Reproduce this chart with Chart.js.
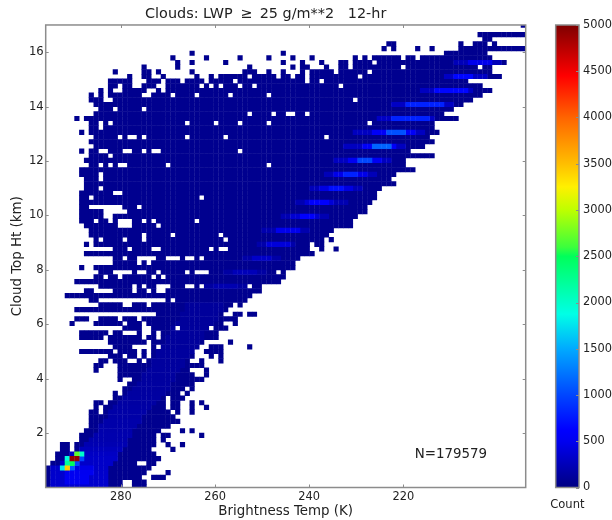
<!DOCTYPE html>
<html>
<head>
<meta charset="utf-8">
<title>Clouds LWP histogram</title>
<script src="https://cdn.jsdelivr.net/npm/chart.js@4"></script>
<style>
  body { margin: 0; background: #fff; }
  #wrap { position: relative; width: 612px; height: 520px; }
  #heatChart { position: absolute; left: 0; top: 0; }
  #barChart { position: absolute; left: 530px; top: 0; }
</style>
</head>
<body>
<div id="wrap">
  <canvas id="heatChart" width="572" height="520"></canvas>
  <canvas id="barChart" width="82" height="520"></canvas>
</div>
<script>
const titleText = 'Clouds: LWP \u2009\u2265\u2009 25 g/m**2   12-hr';
const xLabel = 'Brightness Temp (K)';
const yLabel = 'Cloud Top Ht (km)';
const barLabel = 'Count';
const noteText = 'N=179579';
const xTicks = [280, 260, 240, 220];
const yTicks = [2, 4, 6, 8, 10, 12, 14, 16];
const barTicks = [0, 500, 1000, 1500, 2000, 2500, 3000, 3500, 4000, 4500, 5000];

const baseCount = 60;

// occupied bins per height row (top row first), "from-to" are temperature bin numbers
const rowBins = [
  '99', '', '90-99', '91-92', '71-72 86 89-91 93', '70 72 77 80 86-99',
  '30 49 83-91', '26 33 40 46 51 55 64 66 68-73 75-76 78-92',
  '27 30 37 49 53 57 61-62 64-67 69-95',
  '20 27 42 51 53-54 58 61-62 64-73 75-89 91-92',
  '14 20-21 23 30 41-43 46 49 53 55-59 61-66 68-92',
  '17 20-21 24 31 34 36-41 43-47 49-50 52-53 55-64 66-94',
  '13-17 21-23 25-27 29-32 34-38 40-53 55-56 58-87',
  '13-14 16-17 20-22 25-31 33 35 37-39 41-42 44-60 62-90',
  '11 13 16-20 23 25-92',
  '9 11 13-19 22-25 27-30 32-37 39-45 47-90',
  '9-11 14-63 65-88',
  '10-86',
  '11-13 15-19 21-84',
  '10-41 43-46 48-49 52-53 55-82',
  '6 8-85',
  '9-10 12 14-28 30-34 36-39 41-45 47-66 68-80',
  '9-10 12-80',
  '7 9-81',
  '10-14 16 19 21-28 30-36 38-57 59-79',
  '9-80',
  '10-78',
  '7 9-10 13-15 18-19 21 24-39 41-75',
  '9-12 14-80',
  '8-74',
  '9-10 12 14 17-24 26-45 47-74',
  '7-76',
  '7-10 12-72',
  '8-10 12-71',
  '8-72',
  '8-10 12-69',
  '7-13 16-68',
  '7-8 10-31 33-68',
  '7-67',
  '7-8 16-18 20-66',
  '7-11 17-66',
  '7-11 14-64',
  '7-9 11-12 14 18-19 21 23-30 32-63',
  '8-14 18-22 24-63',
  '9-59',
  '9-19 21-25 27-35 37-58',
  '10 12-15 17-19 21-36 38-57 59',
  '8 10-54 56-57',
  '14-16 18-21 24-33 35 38-54 57 60',
  '8-55',
  '14-15 17-18 23-24 28 31 33-52',
  '14-18 20 22-51',
  '7 10-51',
  '11-13 18 21-22 24-28 30 34-47 49',
  '10-11 13-14 16-21 23 25-49',
  '6-48',
  '11-17 19 21-22 26-28 31 33-41 43-44',
  '8-9 14-17 19-20 22 25-44',
  '4-42',
  '9-10 25 27-41',
  '11-15 18-20 22-38 40',
  '6-37',
  '23-36 39-40 42-43',
  '6-8 11-14 16-18 20-39',
  '5 10-15 17-19 21-36 39',
  '16-19 22-26 28-33 35-37',
  '7-12 14-15 19 22 24-35',
  '7-11 13-19 21-22 24-35',
  '13-20 22-32 38',
  '14-17 22 24-31 34-36 42',
  '7-13 15-18 20 22-30 33-35 36',
  '13-15 17-18 20 22-30 34 36',
  '11-12 14-16 19 21-29 32 36',
  '10-11 15-32',
  '10 15-29 33',
  '15-30 33',
  '15 18-32',
  '17-30',
  '16-28 30',
  '14 16-27 29',
  '14-24 26-28',
  '10-11 13-24 26-27 30 32',
  '10 12-24 26-27 30 33',
  '9-10 12-25 27 30',
  '9-26',
  '9-27',
  '9-25',
  '8-23 28 30',
  '7-22 24-25 32',
  '7-22 24',
  '3-4 6-22 25 28',
  '3-4 6-21 26',
  '2-22',
  '2-23',
  '1-18 21-22',
  '0-21',
  '0-20 25',
  '0-19 22-24',
  '0-15 18-20',
  '0-15 18-20'
];

// brighter runs: [row, fromBin, toBin, count]
const brightRuns = [
  [8, 85, 94, 250], [8, 88, 92, 480],
  [11, 83, 91, 300], [11, 85, 88, 650],
  [14, 78, 88, 280], [14, 81, 87, 650],
  [17, 72, 84, 300], [17, 75, 82, 800],
  [20, 69, 80, 300], [20, 72, 79, 800],
  [23, 64, 78, 280], [23, 68, 76, 560], [23, 71, 74, 1050],
  [26, 62, 74, 280], [26, 66, 72, 560], [26, 68, 71, 1150],
  [29, 60, 71, 280], [29, 63, 69, 520], [29, 65, 67, 1000],
  [32, 58, 68, 250], [32, 60, 66, 470], [32, 62, 64, 800],
  [35, 55, 65, 250], [35, 57, 63, 430], [35, 59, 61, 700],
  [38, 52, 62, 220], [38, 54, 59, 380], [38, 55, 58, 600],
  [41, 49, 58, 220], [41, 51, 56, 360], [41, 53, 55, 600],
  [44, 45, 54, 200], [44, 48, 52, 480],
  [47, 44, 51, 180], [47, 46, 50, 400],
  [50, 41, 48, 170], [50, 43, 46, 320],
  [53, 37, 45, 150], [53, 39, 43, 250],
  [56, 33, 41, 140], [56, 35, 39, 210],
  [60, 29, 36, 115], [61, 29, 36, 115], [62, 28, 35, 115], [63, 28, 35, 115], [64, 27, 34, 115],
  [65, 26, 33, 120], [66, 26, 32, 120], [67, 25, 32, 120], [68, 25, 31, 120], [69, 24, 31, 120],
  [70, 23, 30, 125], [71, 23, 29, 125], [72, 22, 28, 125], [73, 22, 28, 125], [74, 21, 27, 130],
  [75, 20, 26, 130], [76, 20, 26, 130], [77, 19, 25, 135], [78, 18, 25, 135], [79, 17, 24, 140],
  [80, 16, 23, 145], [81, 15, 22, 150], [82, 14, 21, 160], [83, 13, 20, 170], [84, 13, 19, 170],
  [85, 12, 19, 180], [86, 11, 18, 180], [87, 11, 17, 190], [88, 10, 17, 200], [89, 9, 16, 200],
  [90, 8, 16, 220], [91, 7, 15, 260], [92, 5, 14, 300], [93, 4, 14, 320], [94, 3, 13, 320],
  [95, 1, 12, 320], [96, 1, 12, 330], [97, 1, 12, 340], [98, 1, 12, 340], [99, 1, 12, 340],
  [95, 6, 9, 450], [96, 4, 9, 500], [97, 4, 8, 520], [98, 4, 8, 500],
  [92, 6, 6, 2700], [92, 7, 7, 2000],
  [93, 4, 4, 1900], [93, 5, 6, 4900], [93, 7, 7, 1000],
  [94, 4, 4, 2200], [94, 5, 5, 2500], [94, 6, 6, 1000],
  [95, 3, 3, 1800], [95, 4, 4, 3400], [95, 5, 5, 1100]
];

const jetStops = [
  [0, 0, 0, 130], [0.1, 0, 0, 240], [0.125, 0, 0, 255], [0.2, 0, 70, 255], [0.3, 0, 170, 255],
  [0.375, 0, 255, 230], [0.5, 0, 255, 90], [0.52, 60, 255, 60], [0.6, 190, 255, 0], [0.65, 255, 240, 0],
  [0.7, 255, 190, 0], [0.8, 255, 100, 0], [0.89, 255, 0, 0], [1, 127, 0, 0]
];

function jetColor(frac) {
  for (let i = 1; i < jetStops.length; i++) {
    const a = jetStops[i - 1], b = jetStops[i];
    if (frac <= b[0]) {
      const f = (frac - a[0]) / (b[0] - a[0]);
      return `rgb(${Math.round(a[1] + (b[1] - a[1]) * f)},${Math.round(a[2] + (b[2] - a[2]) * f)},${Math.round(a[3] + (b[3] - a[3]) * f)})`;
    }
  }
  return 'rgb(127,0,0)';
}

// bin number -> axis value
const tempOf = bin => 296 - 1.02 * (bin + 0.5);
const heightOf = row => 16.99 - 0.1713 * row;

// build the cell table from the rows
const cells = new Map();
rowBins.forEach((spec, row) => {
  spec.split(' ').filter(Boolean).forEach(part => {
    const ends = part.split('-').map(Number);
    for (let b = ends[0]; b <= ends[ends.length - 1]; b++) cells.set(row + ':' + b, baseCount);
  });
});
brightRuns.forEach(([row, from, to, count]) => {
  for (let b = from; b <= to; b++) {
    if (cells.has(row + ':' + b)) cells.set(row + ':' + b, count);
  }
});

const points = [];
const colours = [];
[...cells.entries()].sort((p, q) => p[1] - q[1]).forEach(([key, count]) => {
  const [row, bin] = key.split(':').map(Number);
  points.push({ x: tempOf(bin), y: heightOf(row) });
  colours.push(jetColor(count / 5000));
});

const textColor = '#222';
const frameColor = '#8c8c8c';

const framePlugin = {
  id: 'frame',
  afterDraw(chart) {
    const { ctx, chartArea: a, scales } = chart;
    const isHeat = scales.x.options.reverse;
    ctx.save();
    ctx.strokeStyle = frameColor;
    ctx.lineWidth = 1;
    ctx.beginPath();
    if (isHeat) {
      xTicks.forEach(v => {
        const px = Math.round(scales.x.getPixelForValue(v)) + 0.5;
        ctx.moveTo(px, a.top); ctx.lineTo(px, a.top + 3);
        ctx.moveTo(px, a.bottom); ctx.lineTo(px, a.bottom - 3);
      });
      yTicks.forEach(v => {
        const py = Math.round(scales.y.getPixelForValue(v)) + 0.5;
        ctx.moveTo(a.left, py); ctx.lineTo(a.left + 3, py);
        ctx.moveTo(a.right, py); ctx.lineTo(a.right - 3, py);
      });
    } else {
      barTicks.forEach(v => {
        const py = Math.round(scales.y.getPixelForValue(v)) + 0.5;
        ctx.moveTo(a.right, py); ctx.lineTo(a.right - 3, py);
      });
    }
    ctx.stroke();
    ctx.lineWidth = 1.5;
    ctx.strokeRect(a.left, a.top, a.right - a.left, a.bottom - a.top);
    ctx.fillStyle = textColor;
    ctx.textBaseline = 'middle';
    if (isHeat) {
      ctx.font = '13.4px "DejaVu Sans"';
      ctx.textAlign = 'left';
      ctx.fillText(noteText, scales.x.getPixelForValue(217.6), scales.y.getPixelForValue(1.2));
    } else {
      ctx.font = '11.5px "DejaVu Sans"';
      ctx.textAlign = 'center';
      ctx.fillText(barLabel, (a.left + a.right) / 2, a.bottom + 17.5);
    }
    ctx.restore();
  }
};

Chart.defaults.font.family = '"DejaVu Sans"';
Chart.defaults.color = textColor;

new Chart(document.getElementById('heatChart'), {
  type: 'scatter',
  data: {
    datasets: [{
      data: points,
      pointStyle: 'rect',
      pointRadius: 3.65,
      pointBorderWidth: 0,
      pointBackgroundColor: colours,
      clip: 0
    }]
  },
  options: {
    responsive: false,
    animation: false,
    events: [],
    layout: { padding: { left: 5.7, right: 46.3, top: 0, bottom: 0 } },
    plugins: {
      legend: { display: false },
      tooltip: { enabled: false },
      title: {
        display: true,
        text: titleText,
        font: { size: 14.4, weight: 'normal' },
        color: textColor,
        padding: { top: 6, bottom: 1.7 }
      }
    },
    scales: {
      x: {
        type: 'linear',
        reverse: true,
        min: 194,
        max: 296,
        afterBuildTicks: s => { s.ticks = xTicks.map(v => ({ value: v })); },
        afterFit: s => { s.height = 32.5; },
        grid: { display: false, drawTicks: false },
        border: { display: false },
        ticks: { font: { size: 11.4 }, padding: 3, maxRotation: 0 },
        title: { display: true, text: xLabel, font: { size: 13.4 }, color: textColor, padding: { top: 0, bottom: 0 } }
      },
      y: {
        min: 0,
        max: 17,
        afterBuildTicks: s => { s.ticks = yTicks.map(v => ({ value: v })); },
        afterFit: s => { s.width = 40; },
        grid: { display: false, drawTicks: false },
        border: { display: false },
        ticks: { font: { size: 11.6 }, padding: 2 },
        title: { display: true, text: yLabel, font: { size: 13.4 }, color: textColor, padding: { top: 4, bottom: 0 } }
      }
    }
  },
  plugins: [framePlugin]
});

new Chart(document.getElementById('barChart'), {
  type: 'bar',
  data: {
    labels: [''],
    datasets: [{
      data: [[0, 5000]],
      barPercentage: 1,
      categoryPercentage: 1,
      backgroundColor(ctx) {
        const a = ctx.chart.chartArea;
        if (!a) return '#000';
        const g = ctx.chart.ctx.createLinearGradient(0, a.bottom, 0, a.top);
        jetStops.forEach(s => g.addColorStop(s[0], jetColor(Math.max(s[0], 0.0001))));
        return g;
      }
    }]
  },
  options: {
    responsive: false,
    animation: false,
    events: [],
    layout: { padding: { left: 25.7, right: 0, top: 25, bottom: 0 } },
    plugins: { legend: { display: false }, tooltip: { enabled: false } },
    scales: {
      x: {
        afterFit: s => { s.height = 32.5; },
        grid: { display: false, drawTicks: false },
        border: { display: false },
        ticks: { display: false }
      },
      y: {
        position: 'right',
        min: 0,
        max: 5000,
        afterBuildTicks: s => { s.ticks = barTicks.map(v => ({ value: v })); },
        afterFit: s => { s.width = 33; },
        grid: { display: false, drawTicks: false },
        border: { display: false },
        ticks: { font: { size: 11.4 }, padding: 4, callback: v => String(v) }
      }
    }
  },
  plugins: [framePlugin]
});
</script>
</body>
</html>
